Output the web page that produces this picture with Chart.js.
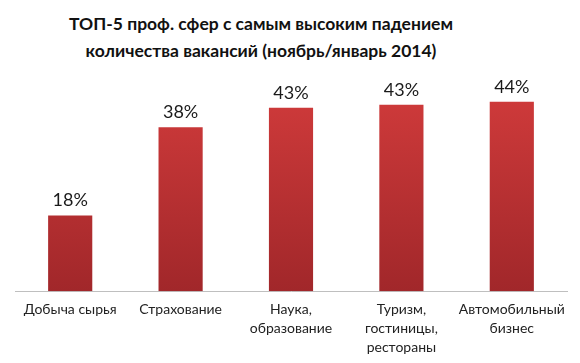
<!DOCTYPE html>
<html>
<head>
<meta charset="utf-8">
<script src="https://cdn.jsdelivr.net/npm/chart.js@4"></script>
<style>
  html, body { margin: 0; padding: 0; background: #fff; overflow: hidden; }
  .wrap { position: relative; width: 580px; height: 363px; }
  .titulo {
    position: absolute; left: 0; top: 10px; width: 522px;
    text-align: center; font-family: Lato, "Open Sans", sans-serif;
    font-weight: bold; font-size: 17.5px; line-height: 27px; color: #111;
  }
  canvas { position: absolute; left: 0; top: 0; }
</style>
</head>
<body>
<div class="wrap">
  <div class="titulo">ТОП-5 проф. сфер с самым высоким падением<br>количества вакансий (ноябрь/январь 2014)</div>
  <canvas id="grafico" width="580" height="363"></canvas>
</div>
<script>
// datos
const categorias = [
  "Добыча сырья",
  "Страхование",
  ["Наука,", "образование"],
  ["Туризм,", "гостиницы,", "рестораны"],
  ["Автомобильный", "бизнес"]
];
const valores = [17.6, 38.1, 42.6, 43.3, 44.0];
const etiquetas = ["18%", "38%", "43%", "43%", "44%"];

// etiquetas encima de cada barra
const etiquetasBarras = {
  id: 'etiquetasBarras',
  afterDatasetsDraw(chart) {
    const ctx = chart.ctx;
    const meta = chart.getDatasetMeta(0);
    ctx.save();
    ctx.font = '18px Lato, "Open Sans", sans-serif';
    ctx.fillStyle = '#1a1a1a';
    ctx.textAlign = 'center';
    ctx.textBaseline = 'bottom';
    meta.data.forEach((bar, i) => {
      ctx.fillText(etiquetas[i], bar.x, bar.y - 6);
    });
    ctx.restore();
  }
};

function degradado(context) {
  const area = context.chart.chartArea;
  if (!area) return '#c0302f';
  const g = context.chart.ctx.createLinearGradient(0, area.top, 0, area.bottom);
  g.addColorStop(0, '#d33c3c');
  g.addColorStop(1, '#a1272a');
  return g;
}

new Chart(document.getElementById('grafico'), {
  type: 'bar',
  data: {
    labels: categorias,
    datasets: [{
      data: valores,
      backgroundColor: degradado,
      borderWidth: 0,
      barPercentage: 0.4,
      categoryPercentage: 1
    }]
  },
  options: {
    responsive: false,
    animation: false,
    layout: { padding: { left: 15, right: 13, top: 76, bottom: -3 } },
    plugins: { legend: { display: false }, tooltip: { enabled: false } },
    scales: {
      x: {
        grid: { display: false, drawTicks: false },
        border: { color: '#bfbfbf', width: 1 },
        ticks: {
          padding: 9,
          maxRotation: 0,
          autoSkip: false,
          color: '#222',
          font: { family: 'Lato, "Open Sans", sans-serif', size: 14, lineHeight: 1.35 }
        }
      },
      y: { display: false, min: 0, max: 50 }
    }
  },
  plugins: [etiquetasBarras]
});
</script>
</body>
</html>
